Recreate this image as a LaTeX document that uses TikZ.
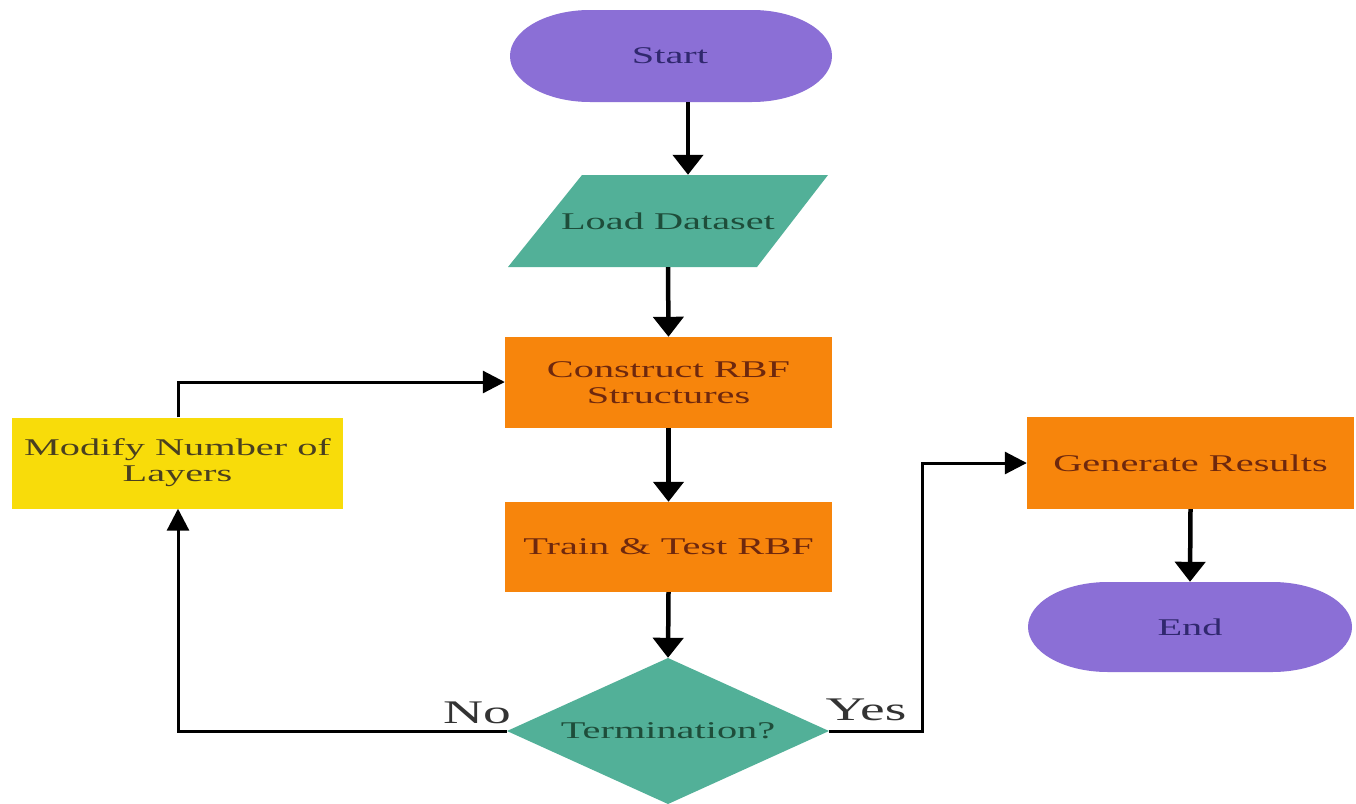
\documentclass[tikz,border=0pt]{standalone}
\usepackage{fontspec}
\setmainfont{Liberation Serif}
\newfontfamily\widefont[FakeStretch=1.68]{Liberation Serif}
\usetikzlibrary{arrows.meta}
\definecolor{cpurple}{RGB}{139,111,214}
\definecolor{cteal}{RGB}{82,176,152}
\definecolor{corange}{RGB}{247,133,12}
\definecolor{cyellow}{RGB}{248,220,10}
\definecolor{tpurple}{RGB}{48,40,110}
\definecolor{tteal}{RGB}{30,77,58}
\definecolor{torange}{RGB}{110,40,14}
\definecolor{tyellow}{RGB}{74,64,32}
\begin{document}
\begin{tikzpicture}[x=1pt,y=-1pt,
  box/.style={draw=none, inner sep=0pt, align=center,
    font=\widefont\fontsize{24}{26}\selectfont},
  conn/.style={line width=4.5pt, -{Triangle[width=30pt,length=20pt]}},
  elbow/.style={line width=3pt, -{Triangle[width=22pt,length=22pt]}},
  lbl/.style={font=\widefont\fontsize{33}{35}\selectfont, text=black!80}
]
\useasboundingbox (0,0) rectangle (1356,803);
\fill[white] (0,0) rectangle (1356,803);

% Start (elliptic-ended terminal)
\fill[cpurple] (590,10) -- (752,10) arc[start angle=-90, end angle=90, x radius=80, y radius=46]
  -- (590,102) arc[start angle=90, end angle=270, x radius=80, y radius=46] -- cycle;
\node[box, minimum width=325pt, minimum height=92pt, text=tpurple] (start) at (670,56) {Start};

% Load Dataset (parallelogram)
\fill[cteal] (582,175) -- (828,175) -- (757,267) -- (508,267) -- cycle;
\node[box, minimum width=250pt, minimum height=92pt, text=tteal] (load) at (668,221) {Load Dataset};

% Construct
\node[box, fill=corange, minimum width=327pt, minimum height=91pt, text=torange]
  (construct) at (668.5,382.5) {Construct RBF\\Structures};

% Train
\node[box, fill=corange, minimum width=327pt, minimum height=90pt, text=torange]
  (train) at (668.5,547) {Train \& Test RBF};

% Termination diamond
\fill[cteal] (507,731) -- (668,658) -- (829,731) -- (668,804) -- cycle;
\node[box, minimum width=322pt, minimum height=146pt, text=tteal]
  (term) at (668,731) {Termination?};

% Modify
\node[box, fill=cyellow, minimum width=331pt, minimum height=91pt, text=tyellow]
  (modify) at (177.5,463) {Modify Number of\\Layers};

% Generate Results
\node[box, fill=corange, minimum width=327pt, minimum height=92pt, text=torange]
  (generate) at (1190.5,463) {Generate Results};

% End (elliptic-ended terminal)
\fill[cpurple] (1108,582) -- (1272,582) arc[start angle=-90, end angle=90, x radius=80, y radius=45]
  -- (1108,672) arc[start angle=90, end angle=270, x radius=80, y radius=45] -- cycle;
\node[box, minimum width=324pt, minimum height=90pt, text=tpurple] (end) at (1190,627) {End};

% connectors
\draw[conn] ([xshift=18pt]start.south) -- ([xshift=20pt]load.north);
\draw[conn] (load.south) -- (construct.north);
\draw[conn] (construct.south) -- (train.north);
\draw[conn] (train.south) -- (term.north);
\draw[conn] (generate.south) -- (end.north);

\coordinate (nocorner) at (178,731);
\coordinate (modtop) at (178,382);
\coordinate (yescorner) at (922,731);
\coordinate (yestop) at (922,463);

\draw[elbow] (term.west) -- (nocorner) -- (nocorner |- modify.south);
\draw[elbow] (modify.north -| modtop) -- (modtop) -- (modtop -| construct.west);
\draw[elbow] (term.east) -- (yescorner) -- (yestop) -- (generate.west);

\node[lbl] (nolbl) at (477,713) {No};
\node[lbl] (yeslbl) at (866,710) {Yes};
\end{tikzpicture}
\end{document}
